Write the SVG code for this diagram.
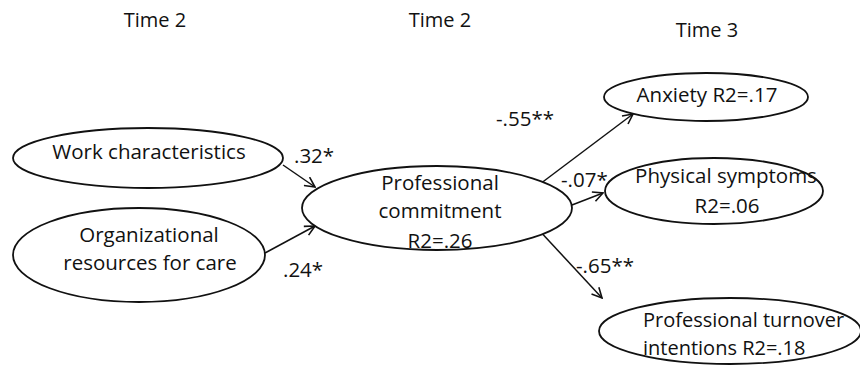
<svg xmlns="http://www.w3.org/2000/svg" width="860" height="369" viewBox="0 0 860 369">
<defs>
<marker id="arr" viewBox="0 0 12 12" refX="11" refY="6" markerWidth="12" markerHeight="12" markerUnits="userSpaceOnUse" orient="auto">
<path d="M1,1 L11,6 L1,11" fill="none" stroke="#111" stroke-width="1.6"/>
</marker>
</defs>
<style>
.n{fill:#fff;stroke:#111;stroke-width:1.8}
text{font-family:"Open Sans","Liberation Sans",sans-serif;font-size:20.5px;fill:#111}
.t{font-size:20px}
.s{font-size:20px}
.c{stroke:#111;stroke-width:1.5;fill:none;marker-end:url(#arr)}
</style>
<rect width="860" height="369" fill="#fff"/>
<g id="headers">
<text class="t" x="155" y="27" text-anchor="middle">Time 2</text>
<text class="t" x="440" y="27" text-anchor="middle">Time 2</text>
<text class="t" x="707" y="37" text-anchor="middle">Time 3</text>
</g>
<g id="connectors">
<line class="c" x1="283" y1="165" x2="315" y2="187"/>
<line class="c" x1="265" y1="253" x2="315" y2="226"/>
<line class="c" x1="540" y1="184" x2="633" y2="114"/>
<line class="c" x1="572" y1="205" x2="603" y2="193"/>
<line class="c" x1="537" y1="228" x2="602" y2="298"/>
<text x="294" y="163">.32*</text>
<text x="283" y="277">.24*</text>
<text x="496" y="126">-.55**</text>
<text x="561" y="187">-.07*</text>
<text x="576" y="273">-.65**</text>
</g>
<g id="work">
<ellipse class="n" cx="148" cy="158" rx="135" ry="30"/>
<text x="149" y="159" text-anchor="middle">Work characteristics</text>
</g>
<g id="org">
<ellipse class="n" cx="139" cy="255" rx="126" ry="47"/>
<text x="149" y="242" text-anchor="middle">Organizational</text>
<text x="150" y="270" text-anchor="middle">resources for care</text>
</g>
<g id="commitment">
<ellipse class="n" cx="437" cy="208" rx="135" ry="42"/>
<text x="440" y="190" text-anchor="middle">Professional</text>
<text x="440" y="218" text-anchor="middle">commitment</text>
<text x="440" y="248" text-anchor="middle">R2=.26</text>
</g>
<g id="anxiety">
<ellipse class="n" cx="706" cy="97" rx="102" ry="24"/>
<text x="707" y="102" text-anchor="middle">Anxiety R2=.17</text>
</g>
<g id="physical">
<ellipse class="n" cx="714" cy="191" rx="109" ry="33"/>
<text x="726" y="183" text-anchor="middle">Physical symptoms</text>
<text x="727" y="213" text-anchor="middle">R2=.06</text>
</g>
<g id="turnover">
<ellipse class="n" cx="730" cy="331" rx="131" ry="33"/>
<text class="s" x="643" y="327">Professional turnover</text>
<text class="s" x="643" y="355">intentions R2=.18</text>
</g>
</svg>
